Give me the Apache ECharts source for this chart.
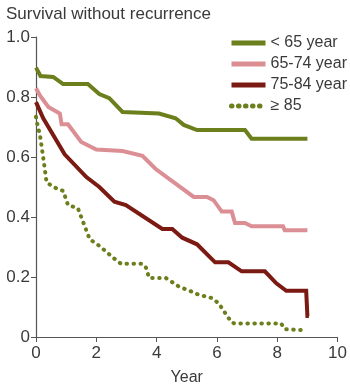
<!DOCTYPE html>
<html lang="en">
<head>
	<meta charset="UTF-8">
	<title>survival</title>
	<script type="text/javascript" src="https://cdn.jsdelivr.net/npm/echarts@6/dist/echarts.min.js"></script>
	<style>body{margin:0;background:#fff;}</style>
</head>
<body>
<div id="chart" style="width: 350px;height: 391px"></div>
<script type="text/javascript">
    // [year, survival]
    var under65 = [[0,0.898],[0.15,0.87],[0.57,0.867],[0.9,0.843],[1.72,0.843],[2.1,0.81],[2.43,0.796],[2.87,0.75],[4.08,0.745],[4.63,0.729],[4.9,0.707],[5.34,0.69],[6.93,0.69],[7.15,0.661],[9.0,0.661]];
    var age65to74 = [[0,0.829],[0.13,0.805],[0.41,0.767],[0.79,0.745],[0.85,0.709],[1.06,0.709],[1.5,0.65],[2.0,0.625],[2.87,0.62],[3.53,0.604],[3.97,0.56],[5.23,0.467],[5.67,0.467],[5.89,0.456],[6.16,0.418],[6.49,0.418],[6.6,0.38],[6.93,0.38],[7.15,0.369],[8.19,0.369],[8.25,0.356],[9.0,0.356]];
    var age75to84 = [[0,0.783],[0.24,0.729],[0.95,0.609],[1.67,0.533],[2.1,0.5],[2.6,0.451],[2.98,0.44],[4.19,0.36],[4.52,0.36],[4.85,0.331],[5.34,0.309],[5.94,0.249],[6.38,0.249],[6.82,0.219],[7.59,0.219],[7.97,0.179],[8.3,0.154],[8.96,0.154],[9.0,0.07],[9.05,0.07]];
    var over85 = [[0,0.734],[0.04,0.712],[0.13,0.674],[0.24,0.598],[0.35,0.516],[0.57,0.5],[0.9,0.487],[1.06,0.44],[1.39,0.429],[1.78,0.326],[2.1,0.304],[2.54,0.266],[2.82,0.244],[3.53,0.244],[3.64,0.233],[3.75,0.197],[4.3,0.197],[4.74,0.168],[5.17,0.151],[5.39,0.141],[5.83,0.13],[6.05,0.113],[6.49,0.048],[6.6,0.045],[8.13,0.045],[8.25,0.026],[8.85,0.023]];
    var seriesNames = ['< 65 year', '65-74 year', '75-84 year', '\u2265 85'];
    var yTickLabels = {0: '0', 0.2: '0.2', 0.4: '0.4', 0.6: '0.6', 0.8: '0.8', 1: '1.0'};

    var chart = echarts.init(document.getElementById('chart'));
    var font = 'Liberation Sans';
    var axisColor = '#555';
    var textColor = '#3a3a3a';

    var makeLine = function(name, data, color, dashed){
        return {
            name: name,
            type: 'line',
            data: data,
            showSymbol: false,
            symbol: 'none',
            silent: true,
            lineStyle: dashed ? {
                color: color, width: 4, type: [0.5, 6.5], cap: 'round'
            } : {
                color: color, width: 4, cap: 'butt', join: 'miter'
            },
            itemStyle: {color: color}
        };
    };

    var option = {
        animation: false,
        textStyle: {fontFamily: font},
        title: {
            text: 'Survival without recurrence',
            left: 1,
            top: 1,
            textStyle: {fontFamily: font, fontSize: 17, fontWeight: 'normal', color: textColor}
        },
        legend: {
            orient: 'vertical',
            left: 224,
            top: 30,
            itemWidth: 34,
            itemHeight: 6,
            itemGap: 5,
            itemStyle: {opacity: 0},
            lineStyle: {width: 5},
            textStyle: {fontFamily: font, fontSize: 16, color: textColor},
            data: seriesNames
        },
        grid: {left: 36, right: 10, top: 37, bottom: 48},
        xAxis: {
            type: 'value',
            min: 0, max: 10, interval: 2,
            name: 'Year',
            nameLocation: 'middle',
            nameGap: 33,
            nameTextStyle: {fontFamily: font, fontSize: 16, color: textColor},
            splitLine: {show: false},
            axisLine: {lineStyle: {color: axisColor, width: 1.2}},
            axisTick: {length: 5, lineStyle: {color: axisColor}},
            axisLabel: {fontFamily: font, fontSize: 17, color: textColor, margin: 8}
        },
        yAxis: {
            type: 'value',
            min: 0, max: 1, interval: 0.2,
            splitLine: {show: false},
            axisLine: {show: true, lineStyle: {color: axisColor, width: 1.2}},
            axisTick: {show: true, length: 5, lineStyle: {color: axisColor}},
            axisLabel: {
                fontFamily: font, fontSize: 17, color: textColor, margin: 6,
                formatter: function(v){ return yTickLabels[Math.round(v * 10) / 10]; }
            }
        },
        series: [
            makeLine(seriesNames[0], under65, '#6b7f1c', false),
            makeLine(seriesNames[1], age65to74, '#dc8e95', false),
            makeLine(seriesNames[2], age75to84, '#7b1a12', false),
            makeLine(seriesNames[3], over85, '#6b7f1c', true)
        ]
    };

    chart.setOption(option);
</script>
</body>
</html>
